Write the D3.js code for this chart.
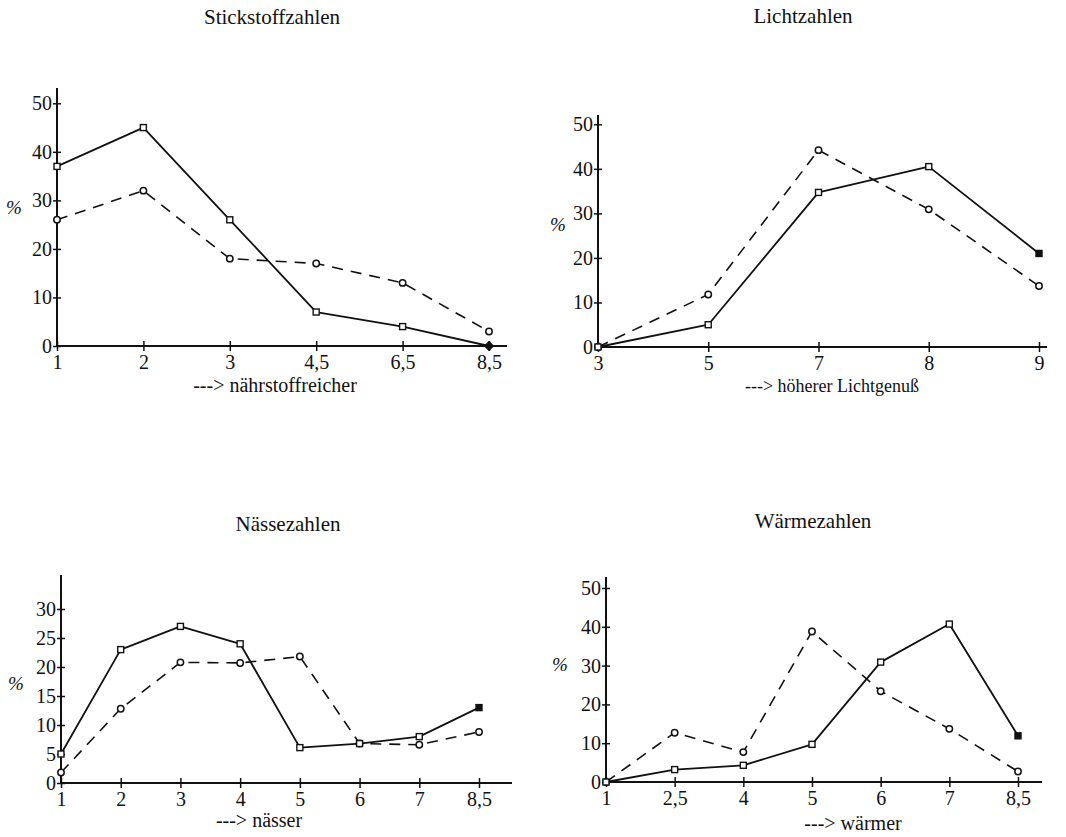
<!doctype html>
<html lang="de">
  <head>
    <meta charset="utf-8">
    <title>Zeigerwerte</title>
    <script src="https://d3js.org/d3.v7.min.js"></script>
    <style>
      body { margin: 0; background: #fff; }
      svg text { font-family: "Liberation Serif", "DejaVu Serif", serif; fill: #111; }
    </style>
  </head>
  <body>
    <svg width="1066" height="837"></svg>
    <script>
      // --- data ---
      var stickCats   = ["1", "2", "3", "4,5", "6,5", "8,5"];
      var stickSolid  = [37, 45, 26, 7, 4, 0];
      var stickDashed = [26, 32, 18, 17, 13, 3];

      var lichtCats   = ["3", "5", "7", "8", "9"];
      var lichtSolid  = [0, 5, 34.7, 40.5, 21];
      var lichtDashed = [0, 11.8, 44.2, 30.9, 13.7];

      var naesseCats   = ["1", "2", "3", "4", "5", "6", "7", "8,5"];
      var naesseSolid  = [5, 23, 27, 24, 6.1, 6.8, 8, 13];
      var naesseDashed = [1.8, 12.8, 20.8, 20.7, 21.8, 6.8, 6.6, 8.8];

      var waermeCats   = ["1", "2,5", "4", "5", "6", "7", "8,5"];
      var waermeSolid  = [0, 3.2, 4.3, 9.7, 30.9, 40.7, 11.9];
      var waermeDashed = [0, 12.7, 7.7, 38.8, 23.4, 13.7, 2.7];

      var ticks50 = [0, 10, 20, 30, 40, 50];
      var ticks30 = [0, 5, 10, 15, 20, 25, 30];

      var titles = ["Stickstoffzahlen", "Lichtzahlen", "Nässezahlen", "Wärmezahlen"];
      var xLabels = ["---> nährstoffreicher", "---> höherer Lichtgenuß", "---> nässer", "---> wärmer"];

      // --- layout (pixels) ---
      var panels = [
        {cats: stickCats, solid: stickSolid, dashed: stickDashed, ticks: ticks50, endDot: true,
         x0: 57, x1: 489, axisEnd: 507, y0: 346, yMaxPx: 103.3, axisTop: 88,
         title: [272, 24], xlab: [275, 392], xlabSize: 20, pct: [14, 214]},
        {cats: lichtCats, solid: lichtSolid, dashed: lichtDashed, ticks: ticks50,
         x0: 598, x1: 1039, axisEnd: 1047, y0: 347, yMaxPx: 124.3, axisTop: 115,
         title: [803, 23], xlab: [832, 392], xlabSize: 18, pct: [558, 231]},
        {cats: naesseCats, solid: naesseSolid, dashed: naesseDashed, ticks: ticks30,
         x0: 61, x1: 479, axisEnd: 512, y0: 783, yMaxPx: 609, axisTop: 575,
         title: [288, 531], xlab: [259, 827], xlabSize: 20, pct: [16, 690]},
        {cats: waermeCats, solid: waermeSolid, dashed: waermeDashed, ticks: ticks50,
         x0: 606, x1: 1018, axisEnd: 1042, y0: 782, yMaxPx: 588, axisTop: 577,
         title: [813, 528], xlab: [853, 830], xlabSize: 20, pct: [560, 671]}
      ];

      var svg = d3.select("svg");

      panels.forEach(function(p, i) {
        var g = svg.append("g");

        var x = d3.scalePoint().domain(p.cats).range([p.x0, p.x1]);
        var y = d3.scaleLinear().domain([0, d3.max(p.ticks)]).range([p.y0, p.yMaxPx]);

        // axes lines
        g.append("line")
          .attr("x1", p.x0).attr("x2", p.x0)
          .attr("y1", p.y0 + 1).attr("y2", p.axisTop)
          .attr("stroke", "#111").attr("stroke-width", 2);
        g.append("line")
          .attr("x1", p.x0).attr("x2", p.axisEnd)
          .attr("y1", p.y0).attr("y2", p.y0)
          .attr("stroke", "#111").attr("stroke-width", 2);

        var yAxis = g.append("g")
          .attr("transform", "translate(" + p.x0 + ",0)")
          .call(d3.axisLeft(y).tickValues(p.ticks).tickSize(4).tickPadding(1));
        yAxis.select(".domain").remove();
        yAxis.selectAll(".tick line").attr("x1", -4).attr("x2", 4)
          .attr("stroke", "#111").attr("stroke-width", 1.5);
        yAxis.selectAll(".tick text")
          .style("font-size", "20px").attr("fill", "#111")
          .style("font-family", "'Liberation Serif', serif");

        var xAxis = g.append("g")
          .attr("transform", "translate(0," + p.y0 + ")")
          .call(d3.axisBottom(x).tickSize(5).tickPadding(4));
        xAxis.select(".domain").remove();
        xAxis.selectAll(".tick line").attr("y1", -5).attr("y2", 5)
          .attr("stroke", "#111").attr("stroke-width", 1.5);
        xAxis.selectAll(".tick text")
          .style("font-size", "20px").attr("fill", "#111")
          .style("font-family", "'Liberation Serif', serif");

        var line = d3.line()
          .x(function(d, j) { return x(p.cats[j]); })
          .y(function(d) { return y(d); });

        g.append("path")
          .datum(p.dashed)
          .attr("fill", "none").attr("stroke", "#111")
          .attr("stroke-width", 1.6)
          .attr("stroke-dasharray", "11,8")
          .attr("d", line);

        g.append("path")
          .datum(p.solid)
          .attr("fill", "none").attr("stroke", "#111")
          .attr("stroke-width", 1.8)
          .attr("stroke-linejoin", "round")
          .attr("d", line);

        // markers: circles for dashed series, squares for solid series
        g.selectAll(".dm")
          .data(p.dashed)
          .join("circle")
          .attr("cx", function(d, j) { return x(p.cats[j]); })
          .attr("cy", function(d) { return y(d); })
          .attr("r", 3.2)
          .attr("fill", "#fff").attr("stroke", "#111").attr("stroke-width", 1.5);

        var last = p.solid.length - 1;
        g.selectAll(".sm")
          .data(p.solid)
          .join("rect")
          .attr("x", function(d, j) { return x(p.cats[j]) - 3; })
          .attr("y", function(d) { return y(d) - 3; })
          .attr("width", 6).attr("height", 6)
          .attr("fill", function(d, j) { return j === last ? "#111" : "#fff"; })
          .attr("stroke", "#111").attr("stroke-width", 1.4)
          .attr("transform", function(d, j) {
            return (j === last && p.endDot) ? "rotate(45," + x(p.cats[j]) + "," + y(d) + ")" : null;
          });

        g.append("text")
          .attr("x", p.title[0]).attr("y", p.title[1])
          .attr("text-anchor", "middle")
          .style("font-size", "21px")
          .text(titles[i]);

        g.append("text")
          .attr("x", p.xlab[0]).attr("y", p.xlab[1])
          .attr("text-anchor", "middle")
          .style("font-size", p.xlabSize + "px")
          .text(xLabels[i]);

        g.append("text")
          .attr("x", p.pct[0]).attr("y", p.pct[1])
          .attr("text-anchor", "middle")
          .style("font-size", "19px")
          .style("font-style", "italic")
          .text("%");
      });
    </script>
  </body>
</html>
